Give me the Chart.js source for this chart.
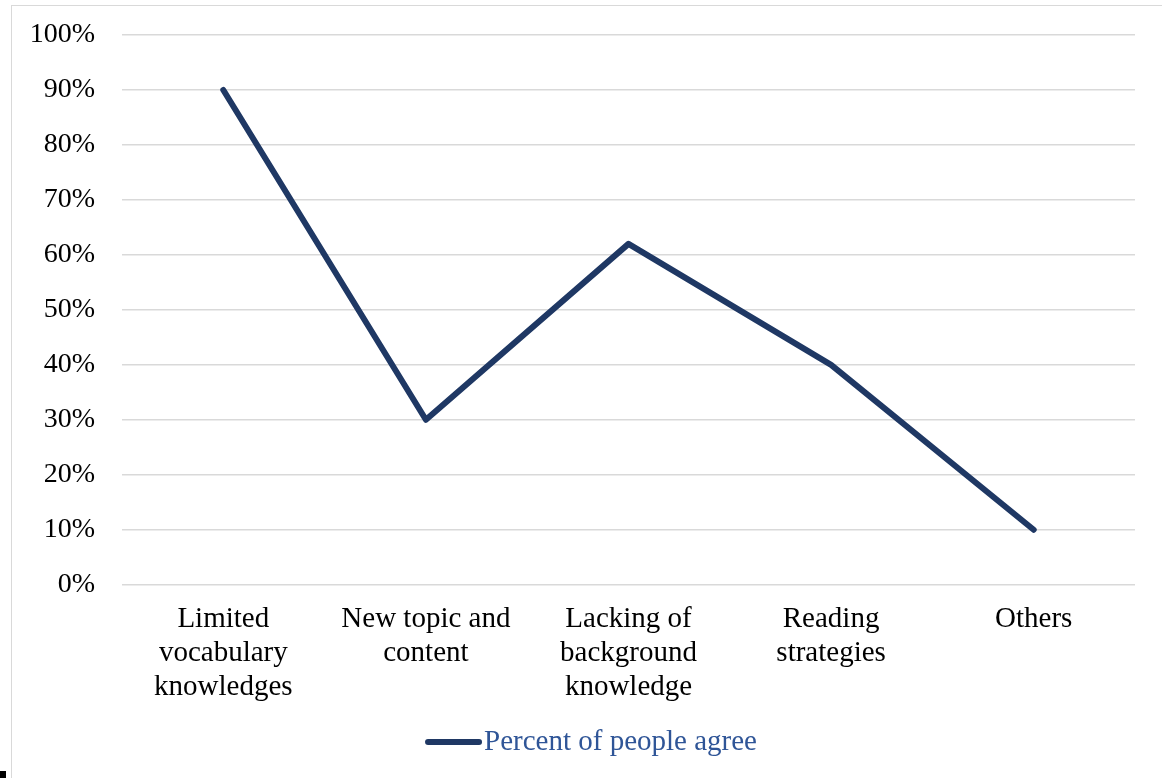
<!DOCTYPE html>
<html>
<head>
<meta charset="utf-8">
<script src="https://cdn.jsdelivr.net/npm/chart.js@4"></script>
<style>
  html, body { margin: 0; padding: 0; background: #fff; overflow: hidden; }
  #wrap { position: relative; width: 1162px; height: 778px; }
  #frame { position: absolute; left: 11px; top: 5px; width: 1200px; height: 820px;
           border: 1.5px solid #d9d9d9; box-sizing: border-box; }
  #mark { position: absolute; left: 0; top: 771px; width: 6px; height: 7px; background: #000; }
  canvas { position: absolute; left: 0; top: 0; }
</style>
</head>
<body>
<div id="wrap">
  <div id="frame"></div>
  <div id="mark"></div>
  <canvas id="grafico" width="1162" height="778"></canvas>
</div>
<script>
// Dificultades de lectura y porcentaje de acuerdo
const categorias = [
  ["Limited", "vocabulary", "knowledges"],
  ["New topic and", "content"],
  ["Lacking of", "background", "knowledge"],
  ["Reading", "strategies"],
  "Others"
];
const porcentajes = [90, 30, 62, 40, 10];
const nombreSerie = "Percent of people agree";

const fuente = "'Liberation Serif', 'Times New Roman', serif";
const colorLinea = "#1f3864";
const colorLeyenda = "#2f5597";

// Leyenda propia: línea corta pegada al texto, centrada bajo el gráfico
const leyendaAbajo = {
  id: "leyendaAbajo",
  afterDraw(chart) {
    const c = chart.ctx;
    const ds = chart.data.datasets[0];
    c.save();
    c.font = "29px " + fuente;
    const anchoTexto = c.measureText(ds.label).width;
    const largo = 57, hueco = 2;
    const total = largo + hueco + anchoTexto;
    const x0 = chart.width / 2 + 10 - total / 2;
    const y = chart.height - 36;
    c.strokeStyle = ds.borderColor;
    c.lineWidth = 6;
    c.lineCap = "round";
    c.beginPath();
    c.moveTo(x0 + 3, y);
    c.lineTo(x0 + largo - 3, y);
    c.stroke();
    c.fillStyle = colorLeyenda;
    c.textBaseline = "middle";
    c.fillText(ds.label, x0 + largo + hueco, y);
    c.restore();
  }
};

const ctx = document.getElementById("grafico").getContext("2d");
new Chart(ctx, {
  type: "line",
  data: {
    labels: categorias,
    datasets: [{
      label: nombreSerie,
      data: porcentajes,
      borderColor: colorLinea,
      backgroundColor: colorLinea,
      borderWidth: 6,
      borderCapStyle: "round",
      borderJoinStyle: "round",
      pointRadius: 0,
      tension: 0
    }]
  },
  plugins: [leyendaAbajo],
  options: {
    responsive: false,
    animation: false,
    layout: { padding: { left: 12, right: 27, top: 35, bottom: 58.5 } },
    plugins: {
      tooltip: { enabled: false },
      legend: { display: false }
    },
    scales: {
      x: {
        offset: true,
        grid: { display: false },
        border: { display: false },
        ticks: {
          font: { family: fuente, size: 29, lineHeight: 1.17 },
          color: "#000",
          padding: 10,
          maxRotation: 0
        },
        afterFit: s => { s.height = 134.8; }
      },
      y: {
        min: 0,
        max: 100,
        border: { display: false },
        // marcas invisibles para separar las etiquetas sin inflar el margen superior
        grid: { color: "#d9d9d9", lineWidth: 1.5, drawTicks: true, tickLength: 22, tickColor: "rgba(0,0,0,0)" },
        ticks: {
          stepSize: 10,
          font: { family: fuente, size: 28 },
          color: "#000",
          padding: 5,
          callback: v => v + "%"
        },
        afterFit: s => { s.width = 110; }
      }
    }
  }
});
</script>
</body>
</html>
